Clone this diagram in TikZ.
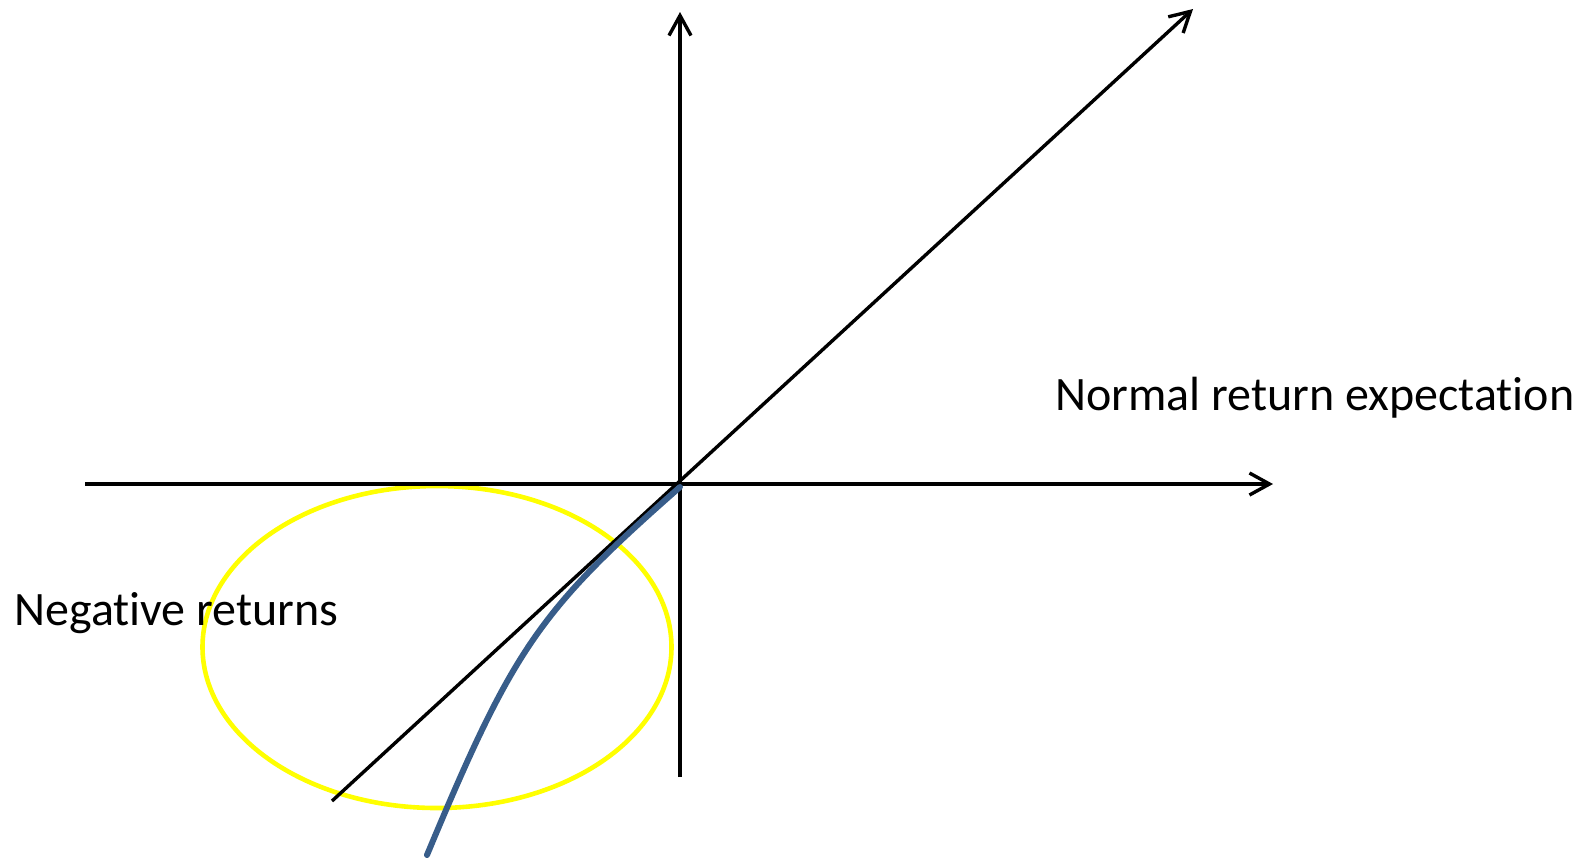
\documentclass[tikz,border=0pt]{standalone}
\usepackage{fontspec}
\setmainfont{Carlito}[Ligatures=NoCommon]
\usetikzlibrary{arrows.meta}
\definecolor{curveblue}{RGB}{56,93,138}
\definecolor{ringyellow}{RGB}{255,255,0}
\tikzset{
  axisline/.style={line width=1.7pt, black, -{Straight Barb[length=10pt,width=11pt,line width=1.7pt]}},
  bluecurve/.style={line width=3pt, curveblue, line cap=round},
  ring/.style={line width=2.3pt, ringyellow},
  lbl/.style={inner sep=0pt, font=\fontsize{24}{28}\selectfont}
}
\begin{document}
\begin{tikzpicture}[x=0.5pt,y=-0.5pt]
\useasboundingbox (0,0) rectangle (1595,859);
% coordinates
\coordinate (O) at (680,484);
\coordinate (ytop) at (680,12);
\coordinate (ybot) at (680,777);
\coordinate (xleft) at (85,484);
\coordinate (xright) at (1273,484);
\coordinate (dlow) at (332,801);
\coordinate (dtop) at (1193,9);
\coordinate (ec) at (437,647);
\coordinate (cstart) at (680,487);
\coordinate (cend) at (427,855);
% ellipse
\draw[ring] (ec) ellipse [x radius=234.5, y radius=161];
% axes
\draw[axisline] (ybot) -- (ytop);
\draw[axisline] (xleft) -- (xright);
\draw[axisline] (dlow) -- (dtop);
% blue curve
\draw[bluecurve] (cstart) .. controls (538.7,611.2) and (513.4,648) .. (cend);
% labels
\node[lbl, anchor=base west] (neg) at (14,625) {Negative returns};
\node[lbl, anchor=base west] (norm) at (1055,410) {Normal return expectation};
\end{tikzpicture}
\end{document}
